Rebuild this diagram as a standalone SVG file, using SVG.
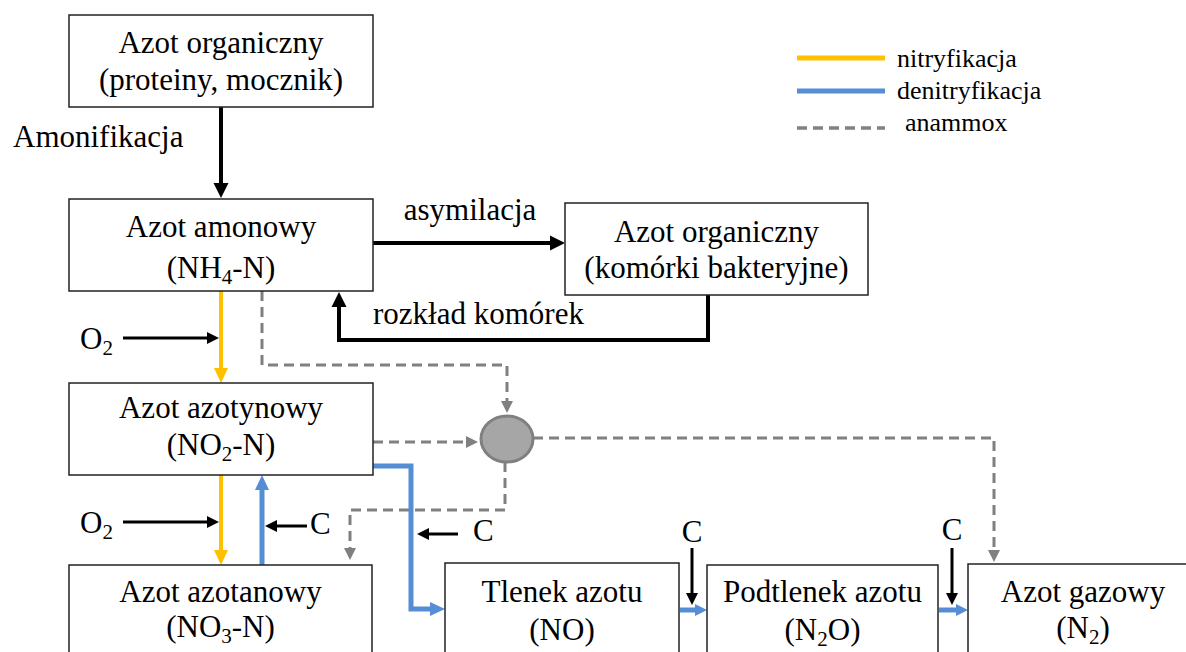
<svg xmlns="http://www.w3.org/2000/svg" width="1186" height="652" viewBox="0 0 1186 652">
<style>
.box{fill:#fff;stroke:#222;stroke-width:1.5}
.t{font-family:"Liberation Serif","Times New Roman",serif;font-size:31px;fill:#000}
.tc{text-anchor:middle}
.lg{font-family:"Liberation Serif","Times New Roman",serif;font-size:26px;fill:#000}
.sub{font-size:21px}
.blk{fill:none;stroke:#000;stroke-width:4}
.blks{fill:none;stroke:#000;stroke-width:3}
.yel{fill:none;stroke:#FFC000;stroke-width:4}
.blu{fill:none;stroke:#558ED5;stroke-width:5}
.gry{fill:none;stroke:#808080;stroke-width:3;stroke-dasharray:10 6}
</style>
<defs>
<marker id="mk" markerUnits="userSpaceOnUse" markerWidth="16" markerHeight="16" refX="0" refY="8" orient="auto" overflow="visible"><path d="M0,0.5 L15,8 L0,15.5 z" fill="#000"/></marker>
<marker id="mks" markerUnits="userSpaceOnUse" markerWidth="13" markerHeight="13" refX="0" refY="6" orient="auto" overflow="visible"><path d="M0,0 L12,6 L0,12 z" fill="#000"/></marker>
<marker id="mky" markerUnits="userSpaceOnUse" markerWidth="16" markerHeight="16" refX="0" refY="7" orient="auto" overflow="visible"><path d="M0,0 L15,7 L0,14 z" fill="#FFC000"/></marker>
<marker id="mkb" markerUnits="userSpaceOnUse" markerWidth="16" markerHeight="16" refX="0" refY="7" orient="auto" overflow="visible"><path d="M0,0 L15,7 L0,14 z" fill="#558ED5"/></marker>
<marker id="mkbs" markerUnits="userSpaceOnUse" markerWidth="13" markerHeight="13" refX="0" refY="6" orient="auto" overflow="visible"><path d="M0,0 L12,6 L0,12 z" fill="#558ED5"/></marker>
<marker id="mkg" markerUnits="userSpaceOnUse" markerWidth="13" markerHeight="13" refX="0" refY="6" orient="auto" overflow="visible"><path d="M0,0 L12,6 L0,12 z" fill="#808080"/></marker>
</defs>

<g id="legend">
<path d="M797,58 H885" stroke="#FFC000" stroke-width="5"/>
<path d="M797,91 H885" stroke="#558ED5" stroke-width="5"/>
<path d="M797,128 H885" stroke="#808080" stroke-width="3.5" stroke-dasharray="10 6"/>
<text class="lg" x="897" y="67">nitryfikacja</text>
<text class="lg" x="897" y="99">denitryfikacja</text>
<text class="lg" x="905" y="131">anammox</text>
</g>

<g id="connectors">
<path class="blk" d="M221,107 V183" marker-end="url(#mk)"/>
<path class="blk" d="M373,243 H550" marker-end="url(#mk)"/>
<path class="blk" d="M708,295 V340 H339 V307" stroke-linejoin="miter" marker-end="url(#mk)"/>
<path class="yel" d="M221,291 V368" marker-end="url(#mky)"/>
<path class="blks" d="M123,338 H207" marker-end="url(#mks)"/>
<path class="gry" d="M262,291 V365 H507 V401" marker-end="url(#mkg)"/>
<path class="gry" d="M373,442 H466" marker-end="url(#mkg)"/>
<path class="gry" d="M533,438 H994 V550" marker-end="url(#mkg)"/>
<path class="gry" d="M505,462 V510 H350 V548" marker-end="url(#mkg)"/>
<path class="blu" d="M373,466 H411 V609 H430" marker-end="url(#mkb)"/>
<path class="blks" d="M458,534 H429" marker-end="url(#mks)"/>
<path class="yel" d="M221,475 V550" marker-end="url(#mky)"/>
<path class="blu" d="M262,565 V490" marker-end="url(#mkb)"/>
<path class="blks" d="M123,522 H207" marker-end="url(#mks)"/>
<path class="blks" d="M307,526 H277" marker-end="url(#mks)"/>
<path class="blks" d="M692,548 V593" marker-end="url(#mks)"/>
<path class="blks" d="M952,548 V593" marker-end="url(#mks)"/>
<path class="blu" d="M680,610 H695" marker-end="url(#mkbs)"/>
<path class="blu" d="M939,610 H956" marker-end="url(#mkbs)"/>
<ellipse cx="507" cy="439" rx="26" ry="23" fill="#A6A6A6" stroke="#808080" stroke-width="3"/>
<text class="t" x="13" y="147">Amonifikacja</text>
<text class="t tc" x="470" y="220">asymilacja</text>
<text class="t" x="373" y="324">rozkład komórek</text>
<text class="t" x="80" y="349">O<tspan class="sub" dy="6">2</tspan></text>
<text class="t" x="80" y="533">O<tspan class="sub" dy="6">2</tspan></text>
<text class="t" x="310" y="534">C</text>
<text class="t" x="473" y="541">C</text>
<text class="t tc" x="692" y="542">C</text>
<text class="t tc" x="952" y="540">C</text>
</g>

<g id="n-org1">
<rect class="box" x="69" y="15" width="304" height="92"/>
<text class="t tc" x="221" y="53">Azot organiczny</text>
<text class="t tc" x="221" y="90">(proteiny, mocznik)</text>
</g>
<g id="n-amon">
<rect class="box" x="69" y="199" width="304" height="92"/>
<text class="t tc" x="221" y="237">Azot amonowy</text>
<text class="t tc" x="221" y="278">(NH<tspan class="sub" dy="6">4</tspan><tspan dy="-6">-N)</tspan></text>
</g>
<g id="n-org2">
<rect class="box" x="565" y="203" width="303" height="92"/>
<text class="t tc" x="716.5" y="242">Azot organiczny</text>
<text class="t tc" x="716.5" y="278">(komórki bakteryjne)</text>
</g>
<g id="n-azotyn">
<rect class="box" x="69" y="383" width="304" height="92"/>
<text class="t tc" x="221" y="418">Azot azotynowy</text>
<text class="t tc" x="221" y="455">(NO<tspan class="sub" dy="6">2</tspan><tspan dy="-6">-N)</tspan></text>
</g>
<g id="n-azotan">
<rect class="box" x="69" y="565" width="303" height="100"/>
<text class="t tc" x="220.5" y="602">Azot azotanowy</text>
<text class="t tc" x="220.5" y="637">(NO<tspan class="sub" dy="6">3</tspan><tspan dy="-6">-N)</tspan></text>
</g>
<g id="n-no">
<rect class="box" x="445" y="563" width="234" height="100"/>
<text class="t tc" x="562" y="602">Tlenek azotu</text>
<text class="t tc" x="562" y="640">(NO)</text>
</g>
<g id="n-n2o">
<rect class="box" x="707" y="565" width="231" height="100"/>
<text class="t tc" x="822.5" y="602">Podtlenek azotu</text>
<text class="t tc" x="822.5" y="640">(N<tspan class="sub" dy="6">2</tspan><tspan dy="-6">O)</tspan></text>
</g>
<g id="n-n2">
<rect class="box" x="968" y="564" width="240" height="100"/>
<text class="t tc" x="1083" y="602">Azot gazowy</text>
<text class="t tc" x="1083" y="638">(N<tspan class="sub" dy="6">2</tspan><tspan dy="-6">)</tspan></text>
</g>
</svg>
